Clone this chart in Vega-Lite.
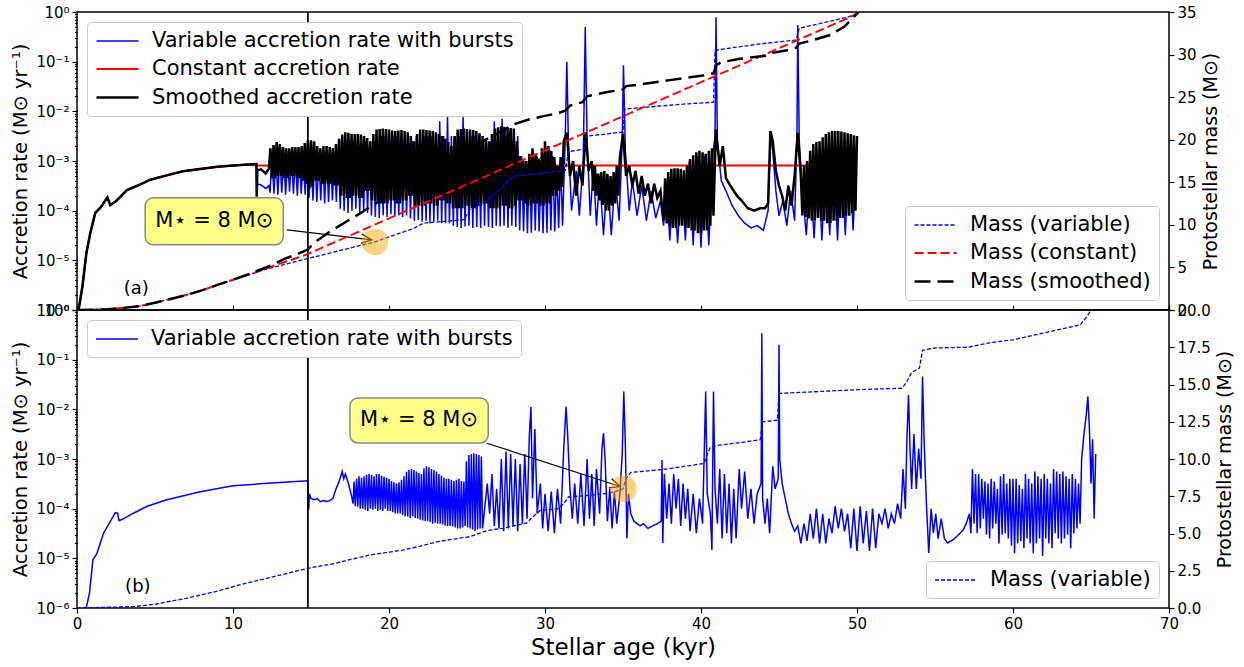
{
"$schema": "https://vega.github.io/schema/vega-lite/v6.json",
"padding": {"left": 10, "top": 4, "right": 4, "bottom": 4},
"bounds": "flush",
"spacing": 0,
"config": {
  "font": "DejaVu Sans",
  "view": {"stroke": "black", "strokeWidth": 1.5},
  "axis": {"labelFont": "DejaVu Sans", "titleFont": "DejaVu Sans", "labelColor": "black", "titleColor": "black", "tickColor": "black", "labelFontSize": 15, "titleFontSize": 19.5, "titleFontWeight": "normal", "grid": false, "domain": false, "tickWidth": 1.2, "labelOverlap": false, "labelBound": false, "labelFlush": false},
  "legend": {"labelFont": "DejaVu Sans", "labelFontSize": 21, "labelColor": "black", "strokeColor": "#cccccc", "fillColor": "white", "padding": 8, "cornerRadius": 4, "offset": 10, "labelLimit": 700, "rowPadding": 7},
  "text": {"font": "DejaVu Sans"}
},
"datasets": {
"topRate": [
{"s":"V","t":0.1,"r":1e-6},{"s":"V","t":0.35,"r":3e-6},{"s":"V","t":0.6,"r":1.4e-5},{"s":"V","t":0.85,"r":3.5e-5},{"s":"V","t":1.17,"r":9e-5},{"s":"V","t":1.5,"r":1.15e-4},{"s":"V","t":1.95,"r":1.85e-4},{"s":"V","t":2.13,"r":1.3e-4},{"s":"V","t":2.5,"r":1.55e-4},{"s":"V","t":3.2,"r":2.6e-4},{"s":"V","t":4,"r":3.3e-4},{"s":"V","t":4.7,"r":4.2e-4},{"s":"V","t":5.8,"r":5.2e-4},{"s":"V","t":6.8,"r":6.2e-4},{"s":"V","t":8,"r":7e-4},{"s":"V","t":9,"r":7.7e-4},{"s":"V","t":10,"r":8.1e-4},{"s":"V","t":11,"r":8.5e-4},{"s":"V","t":11.5,"r":8.7e-4},
{"s":"V","t":11.52,"r":3.5e-4},{"s":"V","t":11.8,"r":3.3e-4},{"s":"V","t":12.1,"r":2.8e-4},{"s":"V","t":12.3,"r":3.2e-4},
{"s":"V","t":12.375,"r":2.3e-4},{"s":"V","t":12.5,"r":1.26e-3},{"s":"V","t":12.625,"r":2.2e-4},{"s":"V","t":12.75,"r":1.26e-3},{"s":"V","t":12.875,"r":2.1e-4},{"s":"V","t":13,"r":1.26e-3},{"s":"V","t":13.125,"r":2.3e-4},{"s":"V","t":13.25,"r":1.26e-3},{"s":"V","t":13.375,"r":2.1e-4},{"s":"V","t":13.5,"r":1.26e-3},{"s":"V","t":13.625,"r":2.4e-4},{"s":"V","t":13.75,"r":1.26e-3},{"s":"V","t":13.875,"r":2.2e-4},{"s":"V","t":14,"r":1.26e-3},{"s":"V","t":14.125,"r":2e-4},{"s":"V","t":14.25,"r":1.26e-3},{"s":"V","t":14.375,"r":2.2e-4},{"s":"V","t":14.5,"r":1.26e-3},{"s":"V","t":14.625,"r":2.1e-4},{"s":"V","t":14.75,"r":1.26e-3},{"s":"V","t":14.875,"r":1.8e-4},{"s":"V","t":15,"r":1.26e-3},{"s":"V","t":15.125,"r":1.6e-4},{"s":"V","t":15.25,"r":1.26e-3},{"s":"V","t":15.375,"r":1.5e-4},{"s":"V","t":15.5,"r":1.26e-3},{"s":"V","t":15.625,"r":1.6e-4},{"s":"V","t":15.75,"r":1.26e-3},{"s":"V","t":15.875,"r":1.4e-4},{"s":"V","t":16,"r":1.26e-3},{"s":"V","t":16.125,"r":1.5e-4},{"s":"V","t":16.25,"r":1.26e-3},{"s":"V","t":16.375,"r":1.6e-4},{"s":"V","t":16.5,"r":1.26e-3},{"s":"V","t":16.625,"r":1.5e-4},{"s":"V","t":16.75,"r":1.6e-3},{"s":"V","t":16.875,"r":1.1e-4},{"s":"V","t":17,"r":2e-3},{"s":"V","t":17.125,"r":1e-4},{"s":"V","t":17.25,"r":2.5e-3},{"s":"V","t":17.375,"r":9e-5},{"s":"V","t":17.5,"r":2.5e-3},{"s":"V","t":17.625,"r":1e-4},{"s":"V","t":17.75,"r":2.5e-3},{"s":"V","t":17.875,"r":1.1e-4},{"s":"V","t":18,"r":2.5e-3},{"s":"V","t":18.125,"r":9e-5},{"s":"V","t":18.25,"r":2.5e-3},{"s":"V","t":18.375,"r":1e-4},{"s":"V","t":18.5,"r":2.5e-3},{"s":"V","t":18.625,"r":9e-5},{"s":"V","t":18.75,"r":2e-3},{"s":"V","t":18.875,"r":8e-5},{"s":"V","t":19,"r":2.5e-3},{"s":"V","t":19.125,"r":7.5e-5},{"s":"V","t":19.25,"r":3.2e-3},{"s":"V","t":19.375,"r":7.1e-5},{"s":"V","t":19.5,"r":3.2e-3},{"s":"V","t":19.625,"r":8e-5},{"s":"V","t":19.75,"r":3.2e-3},{"s":"V","t":19.875,"r":7.5e-5},{"s":"V","t":20,"r":3.2e-3},{"s":"V","t":20.125,"r":8.5e-5},{"s":"V","t":20.25,"r":3.2e-3},{"s":"V","t":20.375,"r":7.6e-5},{"s":"V","t":20.5,"r":3.2e-3},{"s":"V","t":20.625,"r":8e-5},{"s":"V","t":20.75,"r":3.2e-3},{"s":"V","t":20.875,"r":7.5e-5},{"s":"V","t":21,"r":3.2e-3},{"s":"V","t":21.125,"r":8e-5},{"s":"V","t":21.25,"r":2.5e-3},{"s":"V","t":21.375,"r":7e-5},{"s":"V","t":21.5,"r":2.5e-3},{"s":"V","t":21.625,"r":6.3e-5},{"s":"V","t":21.75,"r":3.2e-3},{"s":"V","t":21.875,"r":6.5e-5},{"s":"V","t":22,"r":3.2e-3},{"s":"V","t":22.125,"r":6e-5},{"s":"V","t":22.25,"r":3.2e-3},{"s":"V","t":22.375,"r":6.3e-5},{"s":"V","t":22.5,"r":3.2e-3},{"s":"V","t":22.625,"r":5.6e-5},{"s":"V","t":22.75,"r":3.2e-3},{"s":"V","t":22.875,"r":6e-5},{"s":"V","t":23,"r":3.2e-3},{"s":"V","t":23.125,"r":6.3e-5},{"s":"V","t":23.25,"r":6.3e-3},{"s":"V","t":23.375,"r":5.6e-5},{"s":"V","t":23.5,"r":3.2e-3},{"s":"V","t":23.625,"r":5.6e-5},{"s":"V","t":23.75,"r":7.9e-3},{"s":"V","t":23.875,"r":5.5e-5},{"s":"V","t":24,"r":3.2e-3},{"s":"V","t":24.125,"r":5e-5},{"s":"V","t":24.25,"r":3.2e-3},{"s":"V","t":24.375,"r":4.7e-5},{"s":"V","t":24.5,"r":3.2e-3},{"s":"V","t":24.625,"r":4.5e-5},{"s":"V","t":24.75,"r":7.9e-3},{"s":"V","t":24.875,"r":4.8e-5},{"s":"V","t":25,"r":3.2e-3},{"s":"V","t":25.125,"r":5e-5},{"s":"V","t":25.25,"r":3.2e-3},{"s":"V","t":25.375,"r":4.5e-5},{"s":"V","t":25.5,"r":3.2e-3},{"s":"V","t":25.625,"r":4.7e-5},{"s":"V","t":25.75,"r":3.2e-3},{"s":"V","t":25.875,"r":4.5e-5},{"s":"V","t":26,"r":3.2e-3},{"s":"V","t":26.125,"r":5e-5},{"s":"V","t":26.25,"r":2.5e-3},{"s":"V","t":26.375,"r":4.7e-5},{"s":"V","t":26.5,"r":2.5e-3},{"s":"V","t":26.625,"r":4.5e-5},{"s":"V","t":26.75,"r":6.3e-3},{"s":"V","t":26.875,"r":5e-5},{"s":"V","t":27,"r":3.2e-3},{"s":"V","t":27.125,"r":4.8e-5},{"s":"V","t":27.25,"r":7.1e-3},{"s":"V","t":27.375,"r":5e-5},{"s":"V","t":27.5,"r":3.2e-3},{"s":"V","t":27.625,"r":4.5e-5},{"s":"V","t":27.75,"r":4e-3},{"s":"V","t":27.875,"r":5e-5},{"s":"V","t":28,"r":3.2e-3},{"s":"V","t":28.125,"r":4.7e-5},{"s":"V","t":28.25,"r":3.2e-3},{"s":"V","t":28.375,"r":4e-5},{"s":"V","t":28.5,"r":1.26e-3},{"s":"V","t":28.625,"r":3.8e-5},{"s":"V","t":28.75,"r":1e-3},{"s":"V","t":28.875,"r":3.5e-5},{"s":"V","t":29,"r":1.26e-3},{"s":"V","t":29.125,"r":3.6e-5},{"s":"V","t":29.25,"r":1.6e-3},{"s":"V","t":29.375,"r":4e-5},{"s":"V","t":29.5,"r":1.26e-3},{"s":"V","t":29.625,"r":3.8e-5},{"s":"V","t":29.75,"r":1e-3},{"s":"V","t":29.875,"r":3.5e-5},{"s":"V","t":30,"r":1.6e-3},{"s":"V","t":30.125,"r":3.6e-5},{"s":"V","t":30.25,"r":2e-3},{"s":"V","t":30.375,"r":4e-5},{"s":"V","t":30.5,"r":1.26e-3},{"s":"V","t":30.625,"r":3.8e-5},{"s":"V","t":30.75,"r":7.9e-4},{"s":"V","t":30.875,"r":4.5e-5},{"s":"V","t":31,"r":1e-3},{"s":"V","t":31.125,"r":5e-5},
{"s":"V","t":31.3,"r":3.2e-3},{"s":"V","t":31.4,"r":0.1},{"s":"V","t":31.5,"r":2.5e-3},{"s":"V","t":31.7,"r":1e-4},{"s":"V","t":32,"r":6.3e-4},{"s":"V","t":32.2,"r":7.9e-5},{"s":"V","t":32.45,"r":1e-3},{"s":"V","t":32.58,"r":0.5},{"s":"V","t":32.7,"r":2.5e-3},{"s":"V","t":32.9,"r":7.9e-5},{"s":"V","t":33.1,"r":7.9e-4},{"s":"V","t":33.3,"r":5e-5},{"s":"V","t":33.5,"r":5e-4},{"s":"V","t":33.75,"r":3.2e-5},{"s":"V","t":34,"r":5e-4},{"s":"V","t":34.25,"r":3.2e-5},{"s":"V","t":34.5,"r":5e-4},{"s":"V","t":34.75,"r":6.3e-5},{"s":"V","t":34.95,"r":2.5e-3},{"s":"V","t":35.03,"r":8.5e-2},{"s":"V","t":35.15,"r":1.6e-3},{"s":"V","t":35.4,"r":1e-4},{"s":"V","t":35.6,"r":4e-4},{"s":"V","t":35.9,"r":7.9e-5},{"s":"V","t":36.2,"r":3.2e-4},{"s":"V","t":36.5,"r":6.3e-5},{"s":"V","t":36.8,"r":2.5e-4},{"s":"V","t":37.1,"r":7.1e-5},{"s":"V","t":37.4,"r":1.6e-4},{"s":"V","t":37.6,"r":5e-5},{"s":"V","t":37.8,"r":4e-4},{"s":"V","t":38,"r":2.5e-5},{"s":"V","t":38.25,"r":5e-4},{"s":"V","t":38.5,"r":2.2e-5},{"s":"V","t":38.75,"r":5e-4},{"s":"V","t":39,"r":2.5e-5},{"s":"V","t":39.25,"r":1e-3},{"s":"V","t":39.5,"r":2e-5},{"s":"V","t":39.75,"r":1.26e-3},{"s":"V","t":40,"r":1.8e-5},{"s":"V","t":40.25,"r":1.26e-3},{"s":"V","t":40.5,"r":2e-5},{"s":"V","t":40.75,"r":1.26e-3},{"s":"V","t":40.9,"r":3.2e-3},{"s":"V","t":40.96,"r":0.78},{"s":"V","t":41.05,"r":2.5e-3},{"s":"V","t":41.3,"r":4e-4},{"s":"V","t":41.6,"r":2.5e-4},{"s":"V","t":42,"r":1.26e-4},{"s":"V","t":42.4,"r":7.9e-5},{"s":"V","t":42.8,"r":5.6e-5},{"s":"V","t":43.2,"r":4.5e-5},{"s":"V","t":43.6,"r":5e-5},{"s":"V","t":44,"r":4e-5},{"s":"V","t":44.3,"r":1e-4},{"s":"V","t":44.45,"r":3.2e-3},{"s":"V","t":44.6,"r":1.6e-3},{"s":"V","t":44.8,"r":2.5e-4},{"s":"V","t":45,"r":7.9e-5},{"s":"V","t":45.25,"r":1.6e-4},{"s":"V","t":45.5,"r":5e-5},{"s":"V","t":45.75,"r":2.5e-4},{"s":"V","t":46,"r":6.3e-5},{"s":"V","t":46.15,"r":3.2e-3},{"s":"V","t":46.2,"r":0.55},{"s":"V","t":46.3,"r":2.5e-3},{"s":"V","t":46.5,"r":2.5e-4},{"s":"V","t":46.75,"r":3.2e-5},{"s":"V","t":47,"r":6.3e-4},{"s":"V","t":47.25,"r":2.8e-5},{"s":"V","t":47.5,"r":1e-3},{"s":"V","t":47.75,"r":2.5e-5},{"s":"V","t":48,"r":1.6e-3},{"s":"V","t":48.25,"r":3.2e-5},{"s":"V","t":48.5,"r":2e-3},{"s":"V","t":48.75,"r":2.5e-5},{"s":"V","t":49,"r":2e-3},{"s":"V","t":49.25,"r":3.2e-5},{"s":"V","t":49.5,"r":2e-3},{"s":"V","t":49.75,"r":4e-5},{"s":"V","t":50,"r":2.5e-3},
{"s":"C","t":0.1,"r":1e-6},{"s":"C","t":0.35,"r":3e-6},{"s":"C","t":0.6,"r":1.4e-5},{"s":"C","t":0.85,"r":3.5e-5},{"s":"C","t":1.17,"r":9e-5},{"s":"C","t":1.5,"r":1.15e-4},{"s":"C","t":1.95,"r":1.85e-4},{"s":"C","t":2.13,"r":1.3e-4},{"s":"C","t":2.5,"r":1.55e-4},{"s":"C","t":3.2,"r":2.6e-4},{"s":"C","t":4.7,"r":4.2e-4},{"s":"C","t":6.8,"r":6.2e-4},{"s":"C","t":9,"r":7.7e-4},{"s":"C","t":11,"r":8.5e-4},{"s":"C","t":11.5,"r":8.1e-4},{"s":"C","t":50,"r":8.1e-4},
{"s":"S","t":0.1,"r":1e-6},{"s":"S","t":0.35,"r":3e-6},{"s":"S","t":0.6,"r":1.4e-5},{"s":"S","t":0.85,"r":3.5e-5},{"s":"S","t":1.17,"r":9e-5},{"s":"S","t":1.5,"r":1.15e-4},{"s":"S","t":1.95,"r":1.85e-4},{"s":"S","t":2.13,"r":1.3e-4},{"s":"S","t":2.5,"r":1.55e-4},{"s":"S","t":3.2,"r":2.6e-4},{"s":"S","t":4,"r":3.3e-4},{"s":"S","t":4.7,"r":4.2e-4},{"s":"S","t":5.8,"r":5.2e-4},{"s":"S","t":6.8,"r":6.2e-4},{"s":"S","t":8,"r":7e-4},{"s":"S","t":9,"r":7.7e-4},{"s":"S","t":10,"r":8.1e-4},{"s":"S","t":11,"r":8.5e-4},{"s":"S","t":11.5,"r":8.7e-4},
{"s":"S","t":11.52,"r":1.9e-4},{"s":"S","t":11.56,"r":6.5e-4},{"s":"S","t":11.8,"r":6.8e-4},{"s":"S","t":12.1,"r":5.6e-4},{"s":"S","t":12.3,"r":7e-4},
{"s":"S","t":12.4,"r":1.8e-3},{"s":"S","t":12.5,"r":4.5e-4},{"s":"S","t":12.6,"r":2.1e-3},{"s":"S","t":12.7,"r":4.5e-4},{"s":"S","t":12.8,"r":2.4e-3},{"s":"S","t":12.9,"r":5e-4},{"s":"S","t":13,"r":2.2e-3},{"s":"S","t":13.1,"r":5e-4},{"s":"S","t":13.2,"r":1.9e-3},{"s":"S","t":13.3,"r":4.5e-4},{"s":"S","t":13.4,"r":1.8e-3},{"s":"S","t":13.5,"r":4.5e-4},{"s":"S","t":13.6,"r":1.8e-3},{"s":"S","t":13.7,"r":5e-4},{"s":"S","t":13.8,"r":1.9e-3},{"s":"S","t":13.9,"r":5e-4},{"s":"S","t":14,"r":1.9e-3},{"s":"S","t":14.1,"r":4.5e-4},{"s":"S","t":14.2,"r":1.9e-3},{"s":"S","t":14.3,"r":4.5e-4},{"s":"S","t":14.4,"r":2e-3},{"s":"S","t":14.5,"r":4e-4},{"s":"S","t":14.6,"r":2.3e-3},{"s":"S","t":14.7,"r":3.5e-4},{"s":"S","t":14.8,"r":2.6e-3},{"s":"S","t":14.9,"r":2.8e-4},{"s":"S","t":15,"r":2.6e-3},{"s":"S","t":15.1,"r":3e-4},{"s":"S","t":15.2,"r":2.5e-3},{"s":"S","t":15.3,"r":4e-4},{"s":"S","t":15.4,"r":2e-3},{"s":"S","t":15.5,"r":4e-4},{"s":"S","t":15.6,"r":1.8e-3},{"s":"S","t":15.7,"r":3.5e-4},{"s":"S","t":15.8,"r":2e-3},{"s":"S","t":15.9,"r":3.5e-4},{"s":"S","t":16,"r":2e-3},{"s":"S","t":16.1,"r":3.5e-4},{"s":"S","t":16.2,"r":1.9e-3},{"s":"S","t":16.3,"r":3.5e-4},{"s":"S","t":16.4,"r":1.8e-3},{"s":"S","t":16.5,"r":3.2e-4},{"s":"S","t":16.6,"r":2.2e-3},{"s":"S","t":16.7,"r":3.2e-4},{"s":"S","t":16.8,"r":2.8e-3},{"s":"S","t":16.9,"r":2e-4},{"s":"S","t":17,"r":3.4e-3},{"s":"S","t":17.1,"r":2e-4},{"s":"S","t":17.2,"r":3.8e-3},{"s":"S","t":17.3,"r":1.8e-4},{"s":"S","t":17.4,"r":3.7e-3},{"s":"S","t":17.5,"r":1.8e-4},{"s":"S","t":17.6,"r":3.5e-3},{"s":"S","t":17.7,"r":2e-4},{"s":"S","t":17.8,"r":3.5e-3},{"s":"S","t":17.9,"r":2e-4},{"s":"S","t":18,"r":3.5e-3},{"s":"S","t":18.1,"r":1.8e-4},{"s":"S","t":18.2,"r":3.4e-3},{"s":"S","t":18.3,"r":1.8e-4},{"s":"S","t":18.4,"r":3.2e-3},{"s":"S","t":18.5,"r":2.5e-4},{"s":"S","t":18.6,"r":2.9e-3},{"s":"S","t":18.7,"r":2.5e-4},{"s":"S","t":18.8,"r":2.5e-3},{"s":"S","t":18.9,"r":1.6e-4},{"s":"S","t":19,"r":3.5e-3},{"s":"S","t":19.1,"r":1.6e-4},{"s":"S","t":19.2,"r":4.3e-3},{"s":"S","t":19.3,"r":1.4e-4},{"s":"S","t":19.4,"r":4.4e-3},{"s":"S","t":19.5,"r":1.4e-4},{"s":"S","t":19.6,"r":4.5e-3},{"s":"S","t":19.7,"r":1.4e-4},{"s":"S","t":19.8,"r":4.4e-3},{"s":"S","t":19.9,"r":1.4e-4},{"s":"S","t":20,"r":4.3e-3},{"s":"S","t":20.1,"r":1.6e-4},{"s":"S","t":20.2,"r":4.1e-3},{"s":"S","t":20.3,"r":1.6e-4},{"s":"S","t":20.4,"r":4e-3},{"s":"S","t":20.5,"r":1.4e-4},{"s":"S","t":20.6,"r":4.1e-3},{"s":"S","t":20.7,"r":1.4e-4},{"s":"S","t":20.8,"r":4.2e-3},{"s":"S","t":20.9,"r":1.6e-4},{"s":"S","t":21,"r":4e-3},{"s":"S","t":21.1,"r":1.6e-4},{"s":"S","t":21.2,"r":3.8e-3},{"s":"S","t":21.3,"r":2e-4},{"s":"S","t":21.4,"r":3.2e-3},{"s":"S","t":21.5,"r":2e-4},{"s":"S","t":21.6,"r":2.5e-3},{"s":"S","t":21.7,"r":1.26e-4},{"s":"S","t":21.8,"r":3.5e-3},{"s":"S","t":21.9,"r":1.26e-4},{"s":"S","t":22,"r":4.3e-3},{"s":"S","t":22.1,"r":1.26e-4},{"s":"S","t":22.2,"r":4.3e-3},{"s":"S","t":22.3,"r":1.26e-4},{"s":"S","t":22.4,"r":4.2e-3},{"s":"S","t":22.5,"r":1.4e-4},{"s":"S","t":22.6,"r":4.1e-3},{"s":"S","t":22.7,"r":1.4e-4},{"s":"S","t":22.8,"r":4e-3},{"s":"S","t":22.9,"r":1.26e-4},{"s":"S","t":23,"r":3.8e-3},{"s":"S","t":23.1,"r":1.26e-4},{"s":"S","t":23.2,"r":3.5e-3},{"s":"S","t":23.3,"r":1.6e-4},{"s":"S","t":23.4,"r":3.2e-3},{"s":"S","t":23.5,"r":1.6e-4},{"s":"S","t":23.6,"r":2.8e-3},{"s":"S","t":23.7,"r":1.4e-4},{"s":"S","t":23.8,"r":2.4e-3},{"s":"S","t":23.9,"r":1.4e-4},{"s":"S","t":24,"r":2e-3},{"s":"S","t":24.1,"r":1.12e-4},{"s":"S","t":24.2,"r":3.2e-3},{"s":"S","t":24.3,"r":1.12e-4},{"s":"S","t":24.4,"r":4.3e-3},{"s":"S","t":24.5,"r":1.12e-4},{"s":"S","t":24.6,"r":4.4e-3},{"s":"S","t":24.7,"r":1.12e-4},{"s":"S","t":24.8,"r":4.5e-3},{"s":"S","t":24.9,"r":1.26e-4},{"s":"S","t":25,"r":4.4e-3},{"s":"S","t":25.1,"r":1.26e-4},{"s":"S","t":25.2,"r":4.3e-3},{"s":"S","t":25.3,"r":1.12e-4},{"s":"S","t":25.4,"r":4.2e-3},{"s":"S","t":25.5,"r":1.12e-4},{"s":"S","t":25.6,"r":4e-3},{"s":"S","t":25.7,"r":1.26e-4},{"s":"S","t":25.8,"r":3.6e-3},{"s":"S","t":25.9,"r":1.26e-4},{"s":"S","t":26,"r":3.2e-3},{"s":"S","t":26.1,"r":1.4e-4},{"s":"S","t":26.2,"r":2.8e-3},{"s":"S","t":26.3,"r":1.4e-4},{"s":"S","t":26.4,"r":2.5e-3},{"s":"S","t":26.5,"r":1.12e-4},{"s":"S","t":26.6,"r":3.5e-3},{"s":"S","t":26.7,"r":1.12e-4},{"s":"S","t":26.8,"r":4.5e-3},{"s":"S","t":26.9,"r":1.12e-4},{"s":"S","t":27,"r":4.8e-3},{"s":"S","t":27.1,"r":1.12e-4},{"s":"S","t":27.2,"r":5e-3},{"s":"S","t":27.3,"r":1.26e-4},{"s":"S","t":27.4,"r":4.9e-3},{"s":"S","t":27.5,"r":1.26e-4},{"s":"S","t":27.6,"r":4.8e-3},{"s":"S","t":27.7,"r":1.12e-4},{"s":"S","t":27.8,"r":4.6e-3},{"s":"S","t":27.9,"r":1.12e-4},{"s":"S","t":28,"r":4.5e-3},{"s":"S","t":28.1,"r":1.26e-4},{"s":"S","t":28.2,"r":2.5e-3},{"s":"S","t":28.3,"r":1.6e-4},{"s":"S","t":28.4,"r":1.26e-3},{"s":"S","t":28.5,"r":1.6e-4},{"s":"S","t":28.6,"r":1.1e-3},{"s":"S","t":28.7,"r":1.4e-4},{"s":"S","t":28.8,"r":1e-3},{"s":"S","t":28.9,"r":1.26e-4},{"s":"S","t":29,"r":1.4e-3},{"s":"S","t":29.1,"r":1.26e-4},{"s":"S","t":29.2,"r":1.8e-3},{"s":"S","t":29.3,"r":1.4e-4},{"s":"S","t":29.4,"r":1.4e-3},{"s":"S","t":29.5,"r":1.4e-4},{"s":"S","t":29.6,"r":1.12e-3},{"s":"S","t":29.7,"r":1.26e-4},{"s":"S","t":29.8,"r":1.8e-3},{"s":"S","t":29.9,"r":1.26e-4},{"s":"S","t":30,"r":2.5e-3},{"s":"S","t":30.1,"r":1.4e-4},{"s":"S","t":30.2,"r":2e-3},{"s":"S","t":30.3,"r":1.4e-4},{"s":"S","t":30.4,"r":1.6e-3},{"s":"S","t":30.5,"r":2e-4},{"s":"S","t":30.6,"r":1.2e-3},{"s":"S","t":30.7,"r":2e-4},{"s":"S","t":30.8,"r":7.9e-4},{"s":"S","t":30.9,"r":2.5e-4},{"s":"S","t":31,"r":1.2e-3},{"s":"S","t":31.1,"r":3e-4},{"s":"S","t":31.2,"r":2.5e-3},{"s":"S","t":31.4,"r":3.7e-3},
{"s":"S","t":31.6,"r":5e-4},{"s":"S","t":31.8,"r":1e-3},{"s":"S","t":32,"r":2e-4},{"s":"S","t":32.2,"r":7.9e-4},{"s":"S","t":32.4,"r":3.2e-4},{"s":"S","t":32.6,"r":3.8e-3},{"s":"S","t":32.8,"r":6.3e-4},
{"s":"S","t":33,"r":1e-3},{"s":"S","t":33.1,"r":2.5e-4},{"s":"S","t":33.2,"r":8e-4},{"s":"S","t":33.3,"r":2e-4},{"s":"S","t":33.4,"r":5.6e-4},{"s":"S","t":33.5,"r":1.6e-4},{"s":"S","t":33.6,"r":6e-4},{"s":"S","t":33.7,"r":1.3e-4},{"s":"S","t":33.8,"r":6.3e-4},{"s":"S","t":33.9,"r":1e-4},{"s":"S","t":34,"r":5.5e-4},{"s":"S","t":34.1,"r":1e-4},{"s":"S","t":34.2,"r":5e-4},{"s":"S","t":34.3,"r":1.26e-4},{"s":"S","t":34.4,"r":6e-4},{"s":"S","t":34.5,"r":1.4e-4},{"s":"S","t":34.6,"r":7.9e-4},{"s":"S","t":34.7,"r":2e-4},{"s":"S","t":34.8,"r":1.2e-3},{"s":"S","t":35,"r":3.55e-3},
{"s":"S","t":35.2,"r":5e-4},{"s":"S","t":35.4,"r":7.9e-4},{"s":"S","t":35.6,"r":3.2e-4},{"s":"S","t":35.8,"r":6.3e-4},{"s":"S","t":36,"r":2.2e-4},{"s":"S","t":36.2,"r":5e-4},{"s":"S","t":36.4,"r":2e-4},{"s":"S","t":36.6,"r":3.5e-4},{"s":"S","t":36.8,"r":1.4e-4},{"s":"S","t":37,"r":3.5e-4},{"s":"S","t":37.2,"r":1.8e-4},{"s":"S","t":37.4,"r":2.5e-4},
{"s":"S","t":37.6,"r":6.3e-5},{"s":"S","t":37.7,"r":4.5e-4},{"s":"S","t":37.8,"r":5.5e-5},{"s":"S","t":37.9,"r":6e-4},{"s":"S","t":38,"r":5e-5},{"s":"S","t":38.1,"r":7e-4},{"s":"S","t":38.2,"r":4.5e-5},{"s":"S","t":38.3,"r":7.1e-4},{"s":"S","t":38.4,"r":4.5e-5},{"s":"S","t":38.5,"r":7.1e-4},{"s":"S","t":38.6,"r":5e-5},{"s":"S","t":38.7,"r":7e-4},{"s":"S","t":38.8,"r":5e-5},{"s":"S","t":38.9,"r":6.5e-4},{"s":"S","t":39,"r":4.5e-5},{"s":"S","t":39.1,"r":8e-4},{"s":"S","t":39.2,"r":4.5e-5},{"s":"S","t":39.3,"r":1.1e-3},{"s":"S","t":39.4,"r":4e-5},{"s":"S","t":39.5,"r":1.3e-3},{"s":"S","t":39.6,"r":4e-5},{"s":"S","t":39.7,"r":1.5e-3},{"s":"S","t":39.8,"r":3.5e-5},{"s":"S","t":39.9,"r":1.6e-3},{"s":"S","t":40,"r":3.5e-5},{"s":"S","t":40.1,"r":1.5e-3},{"s":"S","t":40.2,"r":4e-5},{"s":"S","t":40.3,"r":1.4e-3},{"s":"S","t":40.4,"r":4e-5},{"s":"S","t":40.5,"r":1.6e-3},{"s":"S","t":40.6,"r":5e-5},{"s":"S","t":40.7,"r":1.8e-3},{"s":"S","t":40.8,"r":7.9e-5},{"s":"S","t":40.95,"r":4.3e-3},
{"s":"S","t":41.2,"r":7.9e-4},{"s":"S","t":41.4,"r":2e-3},{"s":"S","t":41.6,"r":4.5e-4},{"s":"S","t":41.8,"r":3.5e-4},{"s":"S","t":42,"r":2.8e-4},{"s":"S","t":42.3,"r":2e-4},{"s":"S","t":42.6,"r":1.6e-4},{"s":"S","t":43,"r":1.12e-4},{"s":"S","t":43.4,"r":1e-4},{"s":"S","t":43.8,"r":1.12e-4},{"s":"S","t":44.1,"r":1.12e-4},{"s":"S","t":44.3,"r":1.4e-4},{"s":"S","t":44.45,"r":4e-3},{"s":"S","t":44.6,"r":2.5e-3},{"s":"S","t":44.8,"r":6.3e-4},{"s":"S","t":45,"r":3.2e-4},{"s":"S","t":45.2,"r":2e-4},{"s":"S","t":45.4,"r":1e-4},{"s":"S","t":45.6,"r":3.2e-4},{"s":"S","t":45.8,"r":1.26e-4},{"s":"S","t":46,"r":5e-4},{"s":"S","t":46.2,"r":3.7e-3},
{"s":"S","t":46.4,"r":5e-4},{"s":"S","t":46.5,"r":8e-5},{"s":"S","t":46.6,"r":8e-4},{"s":"S","t":46.7,"r":7.5e-5},{"s":"S","t":46.8,"r":1e-3},{"s":"S","t":46.9,"r":7e-5},{"s":"S","t":47,"r":1.6e-3},{"s":"S","t":47.1,"r":6.3e-5},{"s":"S","t":47.2,"r":2.2e-3},{"s":"S","t":47.3,"r":6.5e-5},{"s":"S","t":47.4,"r":2.4e-3},{"s":"S","t":47.5,"r":7.1e-5},{"s":"S","t":47.6,"r":2.5e-3},{"s":"S","t":47.7,"r":6.3e-5},{"s":"S","t":47.8,"r":3e-3},{"s":"S","t":47.9,"r":6.3e-5},{"s":"S","t":48,"r":3.5e-3},{"s":"S","t":48.1,"r":5.6e-5},{"s":"S","t":48.2,"r":3.8e-3},{"s":"S","t":48.3,"r":5.6e-5},{"s":"S","t":48.4,"r":4e-3},{"s":"S","t":48.5,"r":6.3e-5},{"s":"S","t":48.6,"r":4e-3},{"s":"S","t":48.7,"r":6.3e-5},{"s":"S","t":48.8,"r":4e-3},{"s":"S","t":48.9,"r":7.1e-5},{"s":"S","t":49,"r":3.9e-3},{"s":"S","t":49.1,"r":7.1e-5},{"s":"S","t":49.2,"r":3.8e-3},{"s":"S","t":49.3,"r":7.9e-5},{"s":"S","t":49.4,"r":3.6e-3},{"s":"S","t":49.5,"r":7.9e-5},{"s":"S","t":49.6,"r":3.5e-3},{"s":"S","t":49.7,"r":9e-5},{"s":"S","t":49.8,"r":3.3e-3},{"s":"S","t":49.9,"r":1e-4},{"s":"S","t":50,"r":3.2e-3}
],
"topMass": [
{"s":"MV","t":0,"m":0},{"s":"MV","t":2,"m":0.1},{"s":"MV","t":4,"m":0.45},{"s":"MV","t":6,"m":1.3},{"s":"MV","t":8,"m":2.3},{"s":"MV","t":10,"m":3.55},{"s":"MV","t":11.5,"m":4.45},{"s":"MV","t":12,"m":4.75},{"s":"MV","t":14.7,"m":6.0},{"s":"MV","t":16,"m":6.6},{"s":"MV","t":17,"m":7.05},{"s":"MV","t":18,"m":7.5},{"s":"MV","t":19.1,"m":8.0},{"s":"MV","t":20,"m":8.6},{"s":"MV","t":21.3,"m":9.4},{"s":"MV","t":21.6,"m":9.6},{"s":"MV","t":22,"m":10.0},{"s":"MV","t":22.2,"m":10.2},{"s":"MV","t":23.5,"m":10.4},{"s":"MV","t":24.8,"m":10.6},{"s":"MV","t":25.2,"m":11.8},{"s":"MV","t":26,"m":12.5},{"s":"MV","t":27,"m":14.0},{"s":"MV","t":28,"m":15.7},{"s":"MV","t":29.5,"m":16.0},{"s":"MV","t":31.3,"m":16.4},{"s":"MV","t":31.5,"m":18.6},{"s":"MV","t":32.5,"m":18.9},{"s":"MV","t":32.6,"m":20.4},{"s":"MV","t":35,"m":20.9},{"s":"MV","t":35.1,"m":23.6},{"s":"MV","t":37,"m":23.9},{"s":"MV","t":39,"m":24.2},{"s":"MV","t":40.8,"m":24.4},{"s":"MV","t":40.9,"m":30.5},{"s":"MV","t":42,"m":30.8},{"s":"MV","t":44,"m":31.3},{"s":"MV","t":46.1,"m":31.7},{"s":"MV","t":46.3,"m":33.1},{"s":"MV","t":48,"m":33.8},{"s":"MV","t":49.4,"m":34.4},{"s":"MV","t":50,"m":34.8},
{"s":"MC","t":0,"m":0},{"s":"MC","t":1,"m":0.03},{"s":"MC","t":2,"m":0.1},{"s":"MC","t":3,"m":0.25},{"s":"MC","t":4,"m":0.45},{"s":"MC","t":5,"m":0.85},{"s":"MC","t":6,"m":1.3},{"s":"MC","t":7,"m":1.75},{"s":"MC","t":8,"m":2.3},{"s":"MC","t":9,"m":2.95},{"s":"MC","t":10,"m":3.55},{"s":"MC","t":11,"m":4.15},{"s":"MC","t":11.5,"m":4.45},{"s":"MC","t":12,"m":4.8},{"s":"MC","t":13,"m":5.45},{"s":"MC","t":14,"m":6.05},{"s":"MC","t":14.7,"m":6.5},{"s":"MC","t":16,"m":7.55},{"s":"MC","t":18,"m":9.15},{"s":"MC","t":20,"m":10.75},{"s":"MC","t":22,"m":12.35},{"s":"MC","t":24,"m":13.95},{"s":"MC","t":26,"m":15.55},{"s":"MC","t":28,"m":17.15},{"s":"MC","t":30,"m":18.75},{"s":"MC","t":32,"m":20.35},{"s":"MC","t":34,"m":21.95},{"s":"MC","t":36,"m":23.55},{"s":"MC","t":38,"m":25.15},{"s":"MC","t":40,"m":26.75},{"s":"MC","t":42,"m":28.35},{"s":"MC","t":44,"m":29.95},{"s":"MC","t":46,"m":31.55},{"s":"MC","t":48,"m":33.15},{"s":"MC","t":50,"m":34.75},
{"s":"MS","t":0,"m":0},{"s":"MS","t":1,"m":0.03},{"s":"MS","t":2,"m":0.1},{"s":"MS","t":3,"m":0.25},{"s":"MS","t":4,"m":0.45},{"s":"MS","t":5,"m":0.85},{"s":"MS","t":6,"m":1.3},{"s":"MS","t":7,"m":1.75},{"s":"MS","t":8,"m":2.3},{"s":"MS","t":9,"m":2.95},{"s":"MS","t":10,"m":3.55},{"s":"MS","t":11,"m":4.2},{"s":"MS","t":12.2,"m":5.05},{"s":"MS","t":13.3,"m":6.0},{"s":"MS","t":14.3,"m":6.7},{"s":"MS","t":14.8,"m":7.1},{"s":"MS","t":15.2,"m":7.9},{"s":"MS","t":16.2,"m":9.2},{"s":"MS","t":17.2,"m":10.3},{"s":"MS","t":18.2,"m":11.4},{"s":"MS","t":19.2,"m":12.6},{"s":"MS","t":20,"m":13.5},{"s":"MS","t":21,"m":14.6},{"s":"MS","t":22,"m":15.7},{"s":"MS","t":23,"m":16.8},{"s":"MS","t":24,"m":17.9},{"s":"MS","t":25,"m":18.9},{"s":"MS","t":26,"m":19.8},{"s":"MS","t":27,"m":20.8},{"s":"MS","t":28,"m":21.8},{"s":"MS","t":29,"m":22.4},{"s":"MS","t":30,"m":22.8},{"s":"MS","t":30.8,"m":23.1},{"s":"MS","t":31.3,"m":23.4},{"s":"MS","t":31.6,"m":24.0},{"s":"MS","t":32.4,"m":24.4},{"s":"MS","t":32.7,"m":25.1},{"s":"MS","t":34,"m":25.6},{"s":"MS","t":35,"m":25.9},{"s":"MS","t":35.2,"m":26.3},{"s":"MS","t":36.1,"m":26.5},{"s":"MS","t":38,"m":27.0},{"s":"MS","t":40,"m":27.5},{"s":"MS","t":40.8,"m":27.8},{"s":"MS","t":41,"m":28.8},{"s":"MS","t":41.3,"m":29.1},{"s":"MS","t":42.5,"m":29.5},{"s":"MS","t":44.3,"m":29.9},{"s":"MS","t":44.6,"m":30.2},{"s":"MS","t":45.5,"m":30.5},{"s":"MS","t":46.1,"m":30.8},{"s":"MS","t":46.3,"m":31.3},{"s":"MS","t":47,"m":31.6},{"s":"MS","t":48.3,"m":32.3},{"s":"MS","t":49.2,"m":33.3},{"s":"MS","t":50,"m":34.8},{"s":"MS","t":50.2,"m":35.2}
],
"botRate": [
{"t":0.59,"r":1e-6},{"t":0.8,"r":2e-6},{"t":1.02,"r":9.3e-6},{"t":1.28,"r":1.26e-5},{"t":1.7,"r":3.2e-5},{"t":2.13,"r":5.5e-5},{"t":2.45,"r":8.3e-5},{"t":2.6,"r":8.1e-5},{"t":2.7,"r":5.75e-5},{"t":3,"r":6.3e-5},{"t":3.62,"r":8.1e-5},{"t":4.5,"r":1.12e-4},{"t":5.76,"r":1.51e-4},{"t":7.9,"r":2.19e-4},{"t":10,"r":2.88e-4},{"t":12.2,"r":3.24e-4},{"t":14.3,"r":3.55e-4},{"t":14.8,"r":3.63e-4},{"t":14.85,"r":9.5e-5},{"t":14.9,"r":2e-4},{"t":15,"r":1.6e-4},{"t":15.2,"r":1.51e-4},{"t":15.4,"r":1.6e-4},{"t":15.6,"r":1.38e-4},{"t":15.8,"r":1.45e-4},{"t":16,"r":1.4e-4},{"t":16.2,"r":1.45e-4},{"t":16.4,"r":1.6e-4},{"t":16.6,"r":2.5e-4},{"t":16.8,"r":3.5e-4},{"t":17,"r":5.6e-4},{"t":17.1,"r":4e-4},{"t":17.2,"r":5e-4},{"t":17.4,"r":3.2e-4},{"t":17.6,"r":1.8e-4},{"t":17.7,"r":1.26e-4},
{"t":17.76,"r":3.5e-4},{"t":17.84,"r":1.12e-4},{"t":17.92,"r":4e-4},{"t":18,"r":1.1e-4},{"t":18.08,"r":4.5e-4},{"t":18.16,"r":1e-4},{"t":18.24,"r":4.2e-4},{"t":18.32,"r":1e-4},{"t":18.4,"r":4.5e-4},{"t":18.48,"r":9.5e-5},{"t":18.56,"r":4.8e-4},{"t":18.64,"r":9e-5},{"t":18.72,"r":5e-4},{"t":18.8,"r":1e-4},{"t":18.88,"r":4.8e-4},{"t":18.96,"r":9.5e-5},{"t":19.04,"r":4.5e-4},{"t":19.12,"r":1e-4},{"t":19.2,"r":5e-4},{"t":19.28,"r":9e-5},{"t":19.36,"r":5e-4},{"t":19.44,"r":9.5e-5},{"t":19.52,"r":4.6e-4},{"t":19.6,"r":9e-5},{"t":19.68,"r":4.4e-4},{"t":19.76,"r":1e-4},{"t":19.84,"r":4.2e-4},{"t":19.92,"r":9e-5},{"t":20,"r":4e-4},{"t":20.08,"r":9e-5},{"t":20.16,"r":3.6e-4},{"t":20.24,"r":8.5e-5},{"t":20.32,"r":3.4e-4},{"t":20.4,"r":8e-5},{"t":20.48,"r":3.2e-4},{"t":20.56,"r":8e-5},{"t":20.64,"r":3.4e-4},{"t":20.72,"r":8e-5},{"t":20.8,"r":3.8e-4},{"t":20.88,"r":7.5e-5},{"t":20.96,"r":4.5e-4},{"t":21.04,"r":7e-5},{"t":21.12,"r":5.5e-4},{"t":21.2,"r":7e-5},{"t":21.28,"r":6e-4},{"t":21.36,"r":6.5e-5},{"t":21.44,"r":6.3e-4},{"t":21.52,"r":7e-5},{"t":21.6,"r":6e-4},{"t":21.68,"r":6.5e-5},{"t":21.76,"r":5.6e-4},{"t":21.84,"r":6.3e-5},{"t":21.92,"r":5.2e-4},{"t":22,"r":6e-5},{"t":22.08,"r":5e-4},{"t":22.16,"r":5.8e-5},{"t":22.24,"r":6.5e-4},{"t":22.32,"r":5.6e-5},{"t":22.4,"r":7.1e-4},{"t":22.48,"r":5.6e-5},{"t":22.56,"r":6.8e-4},{"t":22.64,"r":5.4e-5},{"t":22.72,"r":6.3e-4},{"t":22.8,"r":5e-5},{"t":22.88,"r":6e-4},{"t":22.96,"r":5.2e-5},{"t":23.04,"r":5.6e-4},{"t":23.12,"r":5e-5},{"t":23.2,"r":5e-4},{"t":23.28,"r":5e-5},{"t":23.36,"r":4.6e-4},{"t":23.44,"r":4.8e-5},{"t":23.52,"r":4.2e-4},{"t":23.6,"r":4.6e-5},{"t":23.68,"r":4e-4},{"t":23.76,"r":4.5e-5},{"t":23.84,"r":4e-4},{"t":23.92,"r":4.5e-5},{"t":24,"r":3.8e-4},{"t":24.08,"r":4.4e-5},{"t":24.16,"r":3.6e-4},{"t":24.24,"r":4.2e-5},{"t":24.32,"r":3.8e-4},{"t":24.4,"r":4e-5},{"t":24.48,"r":4e-4},{"t":24.56,"r":4e-5},{"t":24.64,"r":3.6e-4},{"t":24.72,"r":4.2e-5},{"t":24.8,"r":3.5e-4},{"t":24.88,"r":4.5e-5},{"t":24.96,"r":9e-4},{"t":25.04,"r":4.2e-5},{"t":25.12,"r":1.2e-3},{"t":25.2,"r":4e-5},{"t":25.28,"r":1.26e-3},{"t":25.36,"r":3.8e-5},{"t":25.44,"r":1.3e-3},{"t":25.52,"r":3.5e-5},{"t":25.6,"r":1.26e-3},{"t":25.68,"r":3.8e-5},{"t":25.76,"r":1.2e-3},{"t":25.84,"r":4e-5},{"t":25.92,"r":1.12e-3},{"t":26,"r":4e-5},
{"t":26.3,"r":3.2e-4},{"t":26.45,"r":7.9e-5},{"t":26.6,"r":5e-4},{"t":26.75,"r":4.5e-5},{"t":26.9,"r":2.5e-4},{"t":27.05,"r":4e-5},{"t":27.2,"r":1e-3},{"t":27.35,"r":3.5e-5},{"t":27.5,"r":1.41e-3},{"t":27.65,"r":4e-5},{"t":27.8,"r":1.26e-3},{"t":27.95,"r":4.5e-5},{"t":28.1,"r":1e-3},{"t":28.25,"r":3.5e-5},{"t":28.4,"r":7.9e-4},{"t":28.55,"r":5e-5},{"t":28.7,"r":1.26e-3},{"t":28.85,"r":6.3e-5},{"t":29,"r":3.2e-3},{"t":29.1,"r":1.12e-2},{"t":29.2,"r":1.6e-4},{"t":29.35,"r":4e-3},{"t":29.5,"r":7.9e-5},{"t":29.7,"r":3.2e-4},{"t":29.85,"r":4e-5},{"t":30,"r":2e-4},{"t":30.2,"r":3.5e-5},{"t":30.4,"r":2.2e-4},{"t":30.6,"r":3.2e-5},{"t":30.8,"r":2.5e-4},{"t":31,"r":5e-5},{"t":31.2,"r":1.6e-3},{"t":31.35,"r":1.12e-2},{"t":31.45,"r":3.2e-3},{"t":31.6,"r":2.5e-4},{"t":31.75,"r":6.3e-5},{"t":31.9,"r":3.2e-4},{"t":32.1,"r":5e-5},{"t":32.3,"r":5e-4},{"t":32.5,"r":4.5e-5},{"t":32.7,"r":1e-3},{"t":32.85,"r":6.3e-5},{"t":33,"r":5e-4},{"t":33.15,"r":4.5e-5},{"t":33.3,"r":6.3e-4},{"t":33.5,"r":7.9e-5},{"t":33.65,"r":1.6e-3},{"t":33.75,"r":3.31e-3},{"t":33.85,"r":1e-3},{"t":34,"r":5.6e-5},{"t":34.15,"r":2.5e-4},{"t":34.3,"r":4e-5},{"t":34.45,"r":2.2e-4},{"t":34.6,"r":5e-5},{"t":34.8,"r":2e-4},{"t":34.95,"r":1.26e-3},{"t":35.05,"r":2.29e-2},{"t":35.15,"r":2e-3},{"t":35.25,"r":2.5e-5},{"t":35.35,"r":2e-4},{"t":35.5,"r":7.9e-5},{"t":35.7,"r":5.6e-5},{"t":35.9,"r":5e-5},{"t":36.1,"r":4.5e-5},{"t":36.3,"r":5e-5},{"t":36.6,"r":4e-5},{"t":36.9,"r":4.5e-5},{"t":37.2,"r":5e-5},{"t":37.45,"r":5.6e-5},{"t":37.5,"r":9.5e-4},{"t":37.55,"r":2.04e-5},{"t":37.65,"r":5e-4},{"t":37.8,"r":6.3e-5},{"t":37.95,"r":3.2e-4},{"t":38.1,"r":5e-5},{"t":38.25,"r":5e-4},{"t":38.4,"r":1e-4},{"t":38.55,"r":4e-4},{"t":38.7,"r":4.5e-5},{"t":38.85,"r":3.2e-4},{"t":39,"r":6.3e-5},{"t":39.15,"r":2.5e-4},{"t":39.3,"r":3.5e-5},{"t":39.5,"r":2e-4},{"t":39.7,"r":3.2e-5},{"t":39.9,"r":1.6e-4},{"t":40.1,"r":5e-5},{"t":40.3,"r":2.29e-2},{"t":40.4,"r":2e-4},{"t":40.6,"r":7.9e-5},{"t":40.7,"r":1.48e-5},{"t":40.8,"r":2.29e-2},{"t":40.9,"r":2.5e-4},{"t":41.05,"r":5e-5},{"t":41.2,"r":6.3e-4},{"t":41.35,"r":2.5e-5},{"t":41.5,"r":5e-4},{"t":41.65,"r":3.2e-5},{"t":41.8,"r":3.2e-4},{"t":41.95,"r":2e-5},{"t":42.1,"r":2.5e-4},{"t":42.25,"r":2.5e-5},{"t":42.45,"r":6.3e-4},{"t":42.6,"r":1e-4},{"t":42.8,"r":5.6e-4},{"t":43,"r":6.3e-5},{"t":43.2,"r":2.5e-4},{"t":43.4,"r":5e-5},{"t":43.6,"r":2e-4},{"t":43.85,"r":3.2e-4},{"t":43.9,"r":0.339},{"t":43.95,"r":1.6e-4},{"t":44.1,"r":5e-5},{"t":44.25,"r":1.6e-4},{"t":44.4,"r":3.2e-5},{"t":44.6,"r":7.1e-4},{"t":44.75,"r":2.5e-4},{"t":44.95,"r":4e-4},{"t":45,"r":0.2},{"t":45.05,"r":1e-3},{"t":45.2,"r":3.2e-4},{"t":45.4,"r":1.6e-4},{"t":45.6,"r":7.9e-5},{"t":45.8,"r":5e-5},{"t":46,"r":3.5e-5},{"t":46.2,"r":4.5e-5},{"t":46.4,"r":2e-5},{"t":46.6,"r":5e-5},{"t":46.8,"r":2.24e-5},{"t":47,"r":7.9e-5},{"t":47.2,"r":2.5e-5},{"t":47.4,"r":1e-4},{"t":47.6,"r":2e-5},{"t":47.8,"r":7.9e-5},{"t":48,"r":2e-5},{"t":48.2,"r":6.3e-5},{"t":48.4,"r":3.2e-5},{"t":48.6,"r":1.12e-4},{"t":48.8,"r":4e-5},{"t":49,"r":1e-4},{"t":49.2,"r":3.5e-5},{"t":49.4,"r":7.9e-5},{"t":49.6,"r":1.6e-5},{"t":49.8,"r":1e-4},{"t":50,"r":1.41e-5},{"t":50.2,"r":1.12e-4},{"t":50.4,"r":2e-5},{"t":50.6,"r":8.9e-5},{"t":50.8,"r":1.41e-5},{"t":51,"r":1e-4},{"t":51.2,"r":1.6e-5},{"t":51.4,"r":7.9e-5},{"t":51.6,"r":5e-5},{"t":51.8,"r":1e-4},{"t":52,"r":4e-5},{"t":52.2,"r":7.9e-5},{"t":52.4,"r":5e-5},{"t":52.6,"r":1.26e-4},{"t":52.8,"r":6.3e-5},{"t":52.95,"r":6.3e-4},{"t":53.1,"r":1e-4},{"t":53.2,"r":2.5e-3},{"t":53.3,"r":1.95e-2},{"t":53.4,"r":1.6e-3},{"t":53.5,"r":2.5e-4},{"t":53.65,"r":3.2e-3},{"t":53.8,"r":2.5e-4},{"t":53.95,"r":1.6e-3},{"t":54.1,"r":4e-4},{"t":54.2,"r":4.57e-2},{"t":54.3,"r":2.5e-3},{"t":54.45,"r":1.26e-4},{"t":54.6,"r":1.29e-5},{"t":54.75,"r":1e-4},{"t":54.9,"r":3.2e-5},{"t":55.05,"r":7.9e-5},{"t":55.2,"r":2.5e-5},{"t":55.4,"r":6.3e-5},{"t":55.6,"r":2.5e-5},{"t":55.8,"r":2.04e-5},{"t":56.2,"r":2.4e-5},{"t":56.6,"r":3.2e-5},{"t":56.8,"r":3.7e-5},{"t":57,"r":5e-5},{"t":57.2,"r":7.9e-5},{"t":57.3,"r":3.2e-5},
{"t":57.4,"r":6.3e-4},{"t":57.5,"r":5e-5},{"t":57.6,"r":5e-4},{"t":57.7,"r":3.2e-5},{"t":57.8,"r":5e-4},{"t":57.9,"r":4e-5},{"t":58,"r":4e-4},{"t":58.1,"r":6.3e-5},{"t":58.2,"r":3.5e-4},{"t":58.3,"r":3e-5},{"t":58.4,"r":3.2e-4},{"t":58.5,"r":2.5e-5},{"t":58.6,"r":4e-4},{"t":58.7,"r":4e-5},{"t":58.8,"r":3.5e-4},{"t":58.9,"r":5e-5},{"t":59,"r":2.5e-4},{"t":59.1,"r":2e-5},{"t":59.2,"r":4.5e-4},{"t":59.3,"r":3e-5},{"t":59.4,"r":5e-4},{"t":59.5,"r":3.2e-5},{"t":59.6,"r":3.2e-4},{"t":59.7,"r":2.5e-5},{"t":59.8,"r":4e-4},{"t":59.9,"r":1.8e-5},{"t":60,"r":4e-4},{"t":60.1,"r":1.26e-5},{"t":60.2,"r":4e-4},{"t":60.3,"r":2e-5},{"t":60.4,"r":3e-4},{"t":60.5,"r":2.2e-5},{"t":60.6,"r":2.5e-4},{"t":60.7,"r":1.6e-5},{"t":60.8,"r":5e-4},{"t":60.9,"r":2.5e-5},{"t":61,"r":4e-4},{"t":61.1,"r":2e-5},{"t":61.2,"r":3.2e-4},{"t":61.3,"r":1.26e-5},{"t":61.4,"r":5.6e-4},{"t":61.5,"r":2e-5},{"t":61.6,"r":4.5e-4},{"t":61.7,"r":2.5e-5},{"t":61.8,"r":4e-4},{"t":61.9,"r":1.12e-5},{"t":62,"r":5e-4},{"t":62.1,"r":2.5e-5},{"t":62.2,"r":4e-4},{"t":62.3,"r":2e-5},{"t":62.4,"r":3.2e-4},{"t":62.5,"r":1.6e-5},{"t":62.6,"r":6.3e-4},{"t":62.7,"r":3.2e-5},{"t":62.8,"r":5.6e-4},{"t":62.9,"r":2.5e-5},{"t":63,"r":5e-4},{"t":63.1,"r":2e-5},{"t":63.2,"r":5.6e-4},{"t":63.3,"r":2.5e-5},{"t":63.4,"r":4.5e-4},{"t":63.5,"r":3e-5},{"t":63.6,"r":4e-4},{"t":63.7,"r":1.6e-5},{"t":63.8,"r":5e-4},{"t":63.9,"r":3.2e-5},{"t":64,"r":4e-4},{"t":64.1,"r":4e-5},{"t":64.2,"r":3.2e-4},{"t":64.3,"r":5e-5},
{"t":64.4,"r":1e-3},{"t":64.55,"r":3.2e-3},{"t":64.7,"r":7.9e-3},{"t":64.8,"r":1.82e-2},{"t":64.9,"r":4e-3},{"t":65,"r":3.2e-4},{"t":65.1,"r":2.5e-3},{"t":65.2,"r":6.3e-5},{"t":65.3,"r":1.26e-3}
],
"botMass": [
{"t":0,"m":0},{"t":0.6,"m":0.02},{"t":2,"m":0.05},{"t":3.6,"m":0.09},{"t":5,"m":0.25},{"t":5.8,"m":0.42},{"t":7,"m":0.65},{"t":7.9,"m":0.87},{"t":9,"m":1.13},{"t":10,"m":1.43},{"t":11,"m":1.7},{"t":12.2,"m":2.0},{"t":13.3,"m":2.28},{"t":14.3,"m":2.55},{"t":14.8,"m":2.66},{"t":15.5,"m":2.8},{"t":16.6,"m":3.0},{"t":17.5,"m":3.25},{"t":18.8,"m":3.56},{"t":20,"m":3.75},{"t":20.9,"m":3.89},{"t":22,"m":4.15},{"t":23.1,"m":4.45},{"t":24,"m":4.6},{"t":25.2,"m":4.79},{"t":26.3,"m":5.2},{"t":27.3,"m":5.35},{"t":28.8,"m":5.7},{"t":29.2,"m":6.1},{"t":29.7,"m":6.55},{"t":30.8,"m":6.65},{"t":31.2,"m":7.0},{"t":31.5,"m":7.45},{"t":33,"m":7.58},{"t":34,"m":7.7},{"t":34.8,"m":7.9},{"t":35,"m":8.0},{"t":35.2,"m":8.7},{"t":35.5,"m":9.1},{"t":37.6,"m":9.3},{"t":40.2,"m":9.7},{"t":40.4,"m":10.3},{"t":40.6,"m":10.8},{"t":41,"m":10.9},{"t":42.5,"m":11.1},{"t":43.8,"m":11.3},{"t":43.95,"m":12.5},{"t":44.9,"m":12.6},{"t":45,"m":14.4},{"t":46,"m":14.45},{"t":48,"m":14.55},{"t":50,"m":14.65},{"t":52.9,"m":14.75},{"t":53.2,"m":15.2},{"t":53.5,"m":15.8},{"t":54,"m":16.1},{"t":54.2,"m":17.3},{"t":55,"m":17.45},{"t":57.1,"m":17.5},{"t":58.5,"m":17.8},{"t":60,"m":18.0},{"t":61.5,"m":18.35},{"t":63,"m":18.7},{"t":64.3,"m":19.0},{"t":64.7,"m":19.5},{"t":65,"m":20.0},{"t":65.2,"m":20.3}
]
},
"vconcat": [
{
  "width": 1092, "height": 298,
  "layer": [
    {"layer": [
      {"data": {"name": "topRate"},
       "mark": {"type": "line", "clip": true},
       "encoding": {
         "x": {"field": "t", "type": "quantitative", "scale": {"domain": [0, 70], "nice": false, "zero": false},
               "axis": {"orient": "bottom", "labels": false, "title": null, "values": [0,10,20,30,40,50,60,70], "tickSize": -5}},
         "y": {"field": "r", "type": "quantitative", "scale": {"type": "log", "domain": [1e-6, 1], "nice": false},
               "axis": {"title": "Accretion rate (M⊙ yr⁻¹)", "titlePadding": 5, "labelPadding": 3,
                        "values": [1e-6,2e-6,3e-6,4e-6,5e-6,6e-6,7e-6,8e-6,9e-6,1e-5,2e-5,3e-5,4e-5,5e-5,6e-5,7e-5,8e-5,9e-5,1e-4,2e-4,3e-4,4e-4,5e-4,6e-4,7e-4,8e-4,9e-4,0.001,0.002,0.003,0.004,0.005,0.006,0.007,0.008,0.009,0.01,0.02,0.03,0.04,0.05,0.06,0.07,0.08,0.09,0.1,0.2,0.3,0.4,0.5,0.6,0.7,0.8,0.9,1],
                        "labelExpr": "abs(log(datum.value)/LN10-round(log(datum.value)/LN10))<0.01 ? ['10⁰','10⁻¹','10⁻²','10⁻³','10⁻⁴','10⁻⁵','10⁻⁶'][abs(round(log(datum.value)/LN10))] : ''",
                        "tickSize": {"condition": {"test": "abs(log(datum.value)/LN10-round(log(datum.value)/LN10))<0.01", "value": 5}, "value": 2.5}}},
         "color": {"field": "s", "type": "nominal", "scale": {"domain": ["V","C","S"], "range": ["#0000ff","#ff0000","#000000"]},
                   "legend": {"title": null, "orient": "top-left", "symbolType": "M-1,0H3.2", "symbolSize": 400, "labelOffset": 34,
                              "labelExpr": "datum.label == 'V' ? 'Variable accretion rate with bursts' : datum.label == 'C' ? 'Constant accretion rate' : 'Smoothed accretion rate'"}},
         "strokeWidth": {"field": "s", "type": "nominal", "scale": {"domain": ["V","C","S"], "range": [1.5, 2.5, 5]},
                   "legend": {"title": null, "orient": "top-left", "symbolType": "M-1,0H3.2", "symbolSize": 400, "labelOffset": 34,
                              "labelExpr": "datum.label == 'V' ? 'Variable accretion rate with bursts' : datum.label == 'C' ? 'Constant accretion rate' : 'Smoothed accretion rate'"}}
       }},
      {"data": {"values": [{"t": 14.8}]},
       "mark": {"type": "rule", "color": "black", "strokeWidth": 1.8},
       "encoding": {"x": {"field": "t", "type": "quantitative"}}},
      {"data": {"values": [{"t": 4.37, "t2": 13.22, "r": 1.81e-4, "r2": 2.05e-5}]},
       "mark": {"type": "rect", "fill": "#ffff88", "stroke": "#888888", "strokeWidth": 1.5, "cornerRadius": 8},
       "encoding": {"x": {"field": "t", "type": "quantitative"}, "x2": {"field": "t2"}, "y": {"field": "r", "type": "quantitative"}, "y2": {"field": "r2"}}},
      {"data": {"values": [{"t": 8.8, "r": 6.1e-5, "label": "M⋆ = 8 M⊙"}]},
       "mark": {"type": "text", "fontSize": 21, "color": "black"},
       "encoding": {"x": {"field": "t", "type": "quantitative"}, "y": {"field": "r", "type": "quantitative"}, "text": {"field": "label"}}},
      {"data": {"values": [{"t": 13.46, "r": 4.11e-5}, {"t": 18.9, "r": 2.58e-5}]},
       "mark": {"type": "line", "color": "black", "strokeWidth": 1.2},
       "encoding": {"x": {"field": "t", "type": "quantitative"}, "y": {"field": "r", "type": "quantitative"}}},
      {"data": {"values": [{"t": 18.9, "r": 2.58e-5}]},
       "mark": {"type": "point", "shape": "M-1,-0.45L0,0L-1,0.45", "filled": false, "stroke": "black", "strokeWidth": 1.2, "size": 440, "angle": 6.7, "opacity": 1},
       "encoding": {"x": {"field": "t", "type": "quantitative"}, "y": {"field": "r", "type": "quantitative"}}},
      {"data": {"values": [{"t": 3.8, "r": 2.7e-6, "label": "(a)"}]},
       "mark": {"type": "text", "fontSize": 18, "color": "black"},
       "encoding": {"x": {"field": "t", "type": "quantitative"}, "y": {"field": "r", "type": "quantitative"}, "text": {"field": "label"}}}
    ]},
    {"layer": [
      {"data": {"name": "topMass"},
       "mark": {"type": "line", "clip": true},
       "encoding": {
         "x": {"field": "t", "type": "quantitative"},
         "y": {"field": "m", "type": "quantitative", "scale": {"domain": [0, 35], "nice": false},
               "axis": {"orient": "right", "title": "Protostellar mass (M⊙)", "titleAngle": 270, "titleBaseline": "top", "titleFontSize": 19, "values": [0,5,10,15,20,25,30,35], "tickSize": 5, "labelPadding": 3, "titlePadding": 5, "labelOverlap": false}},
         "color": {"field": "s", "type": "nominal", "scale": {"domain": ["MV","MC","MS"], "range": ["#0000ff","#ff0000","#000000"]},
                   "legend": {"title": null, "orient": "bottom-right", "symbolType": "M-1,0H3.2", "symbolSize": 400, "labelOffset": 34,
                              "labelExpr": "datum.label == 'MV' ? 'Mass (variable)' : datum.label == 'MC' ? 'Mass (constant)' : 'Mass (smoothed)'"}},
         "strokeWidth": {"field": "s", "type": "nominal", "scale": {"domain": ["MV","MC","MS"], "range": [1.3, 2.5, 4.5]},
                   "legend": {"title": null, "orient": "bottom-right", "symbolType": "M-1,0H3.2", "symbolSize": 400, "labelOffset": 34,
                              "labelExpr": "datum.label == 'MV' ? 'Mass (variable)' : datum.label == 'MC' ? 'Mass (constant)' : 'Mass (smoothed)'"}},
         "strokeDash": {"field": "s", "type": "nominal", "scale": {"domain": ["MV","MC","MS"], "range": [[4,2],[9,4],[16,7]]},
                   "legend": {"title": null, "orient": "bottom-right", "symbolType": "M-1,0H3.2", "symbolSize": 400, "labelOffset": 34,
                              "labelExpr": "datum.label == 'MV' ? 'Mass (variable)' : datum.label == 'MC' ? 'Mass (constant)' : 'Mass (smoothed)'"}}
       }},
      {"data": {"values": [{"t": 19.1, "m": 8}]},
       "mark": {"type": "point", "shape": "circle", "filled": true, "color": "#ffa500", "opacity": 0.5, "size": 700},
       "encoding": {"x": {"field": "t", "type": "quantitative"},
                    "y": {"field": "m", "type": "quantitative", "axis": {"orient": "right", "title": "Protostellar mass (M⊙)", "titleAngle": 270, "titleBaseline": "top", "titleFontSize": 19, "values": [0,5,10,15,20,25,30,35], "tickSize": 5, "labelPadding": 3, "titlePadding": 5, "labelOverlap": false}}}}
    ]}
  ],
  "resolve": {"scale": {"y": "independent", "color": "independent", "strokeWidth": "independent", "strokeDash": "independent"}}
},
{
  "width": 1092, "height": 298,
  "layer": [
    {"layer": [
      {"data": {"name": "botRate"},
       "mark": {"type": "line", "clip": true, "strokeWidth": 1.5},
       "encoding": {
         "x": {"field": "t", "type": "quantitative", "scale": {"domain": [0, 70], "nice": false, "zero": false},
               "axis": {"orient": "bottom", "title": "Stellar age (kyr)", "titleFontSize": 23, "values": [0,10,20,30,40,50,60,70], "tickSize": 5, "labelPadding": 3, "titlePadding": 5}},
         "y": {"field": "r", "type": "quantitative", "scale": {"type": "log", "domain": [1e-6, 1], "nice": false},
               "axis": {"title": "Accretion rate (M⊙ yr⁻¹)", "titlePadding": 5, "labelPadding": 3,
                        "values": [1e-6,2e-6,3e-6,4e-6,5e-6,6e-6,7e-6,8e-6,9e-6,1e-5,2e-5,3e-5,4e-5,5e-5,6e-5,7e-5,8e-5,9e-5,1e-4,2e-4,3e-4,4e-4,5e-4,6e-4,7e-4,8e-4,9e-4,0.001,0.002,0.003,0.004,0.005,0.006,0.007,0.008,0.009,0.01,0.02,0.03,0.04,0.05,0.06,0.07,0.08,0.09,0.1,0.2,0.3,0.4,0.5,0.6,0.7,0.8,0.9,1],
                        "labelExpr": "abs(log(datum.value)/LN10-round(log(datum.value)/LN10))<0.01 ? ['10⁰','10⁻¹','10⁻²','10⁻³','10⁻⁴','10⁻⁵','10⁻⁶'][abs(round(log(datum.value)/LN10))] : ''",
                        "tickSize": {"condition": {"test": "abs(log(datum.value)/LN10-round(log(datum.value)/LN10))<0.01", "value": 5}, "value": 2.5}}},
         "color": {"datum": "Variable accretion rate with bursts", "type": "nominal", "scale": {"range": ["#0000ff"]},
                   "legend": {"title": null, "orient": "top-left", "symbolType": "M-1,0H3.2", "symbolSize": 400, "labelOffset": 34, "symbolStrokeWidth": 1.5}}
       }},
      {"data": {"values": [{"t": 14.8}]},
       "mark": {"type": "rule", "color": "black", "strokeWidth": 1.8},
       "encoding": {"x": {"field": "t", "type": "quantitative"}}},
      {"data": {"values": [{"t": 17.5, "t2": 26.36, "r": 1.7e-2, "r2": 2.1e-3}]},
       "mark": {"type": "rect", "fill": "#ffff88", "stroke": "#888888", "strokeWidth": 1.5, "cornerRadius": 8},
       "encoding": {"x": {"field": "t", "type": "quantitative"}, "x2": {"field": "t2"}, "y": {"field": "r", "type": "quantitative"}, "y2": {"field": "r2"}}},
      {"data": {"values": [{"t": 21.93, "r": 6.0e-3, "label": "M⋆ = 8 M⊙"}]},
       "mark": {"type": "text", "fontSize": 21, "color": "black"},
       "encoding": {"x": {"field": "t", "type": "quantitative"}, "y": {"field": "r", "type": "quantitative"}, "text": {"field": "label"}}},
      {"data": {"values": [{"t": 26.28, "r": 2.08e-3}, {"t": 34.82, "r": 2.79e-4}]},
       "mark": {"type": "line", "color": "black", "strokeWidth": 1.2},
       "encoding": {"x": {"field": "t", "type": "quantitative"}, "y": {"field": "r", "type": "quantitative"}}},
      {"data": {"values": [{"t": 34.82, "r": 2.79e-4}]},
       "mark": {"type": "point", "shape": "M-1,-0.45L0,0L-1,0.45", "filled": false, "stroke": "black", "strokeWidth": 1.2, "size": 440, "angle": 18, "opacity": 1},
       "encoding": {"x": {"field": "t", "type": "quantitative"}, "y": {"field": "r", "type": "quantitative"}}},
      {"data": {"values": [{"t": 3.9, "r": 2.6e-6, "label": "(b)"}]},
       "mark": {"type": "text", "fontSize": 18, "color": "black"},
       "encoding": {"x": {"field": "t", "type": "quantitative"}, "y": {"field": "r", "type": "quantitative"}, "text": {"field": "label"}}}
    ]},
    {"layer": [
      {"data": {"name": "botMass"},
       "mark": {"type": "line", "clip": true, "strokeWidth": 1.3, "strokeDash": [4, 2]},
       "encoding": {
         "x": {"field": "t", "type": "quantitative"},
         "y": {"field": "m", "type": "quantitative", "scale": {"domain": [0, 20], "nice": false},
               "axis": {"orient": "right", "title": "Protostellar mass (M⊙)", "titleAngle": 270, "titleBaseline": "top", "titleFontSize": 19, "values": [0,2.5,5,7.5,10,12.5,15,17.5,20], "format": ".1f", "tickSize": 5, "labelPadding": 3, "titlePadding": 5, "labelOverlap": false}},
         "color": {"datum": "Mass (variable)", "type": "nominal", "scale": {"range": ["#0000ff"]},
                   "legend": {"title": null, "orient": "bottom-right", "symbolType": "M-1,0H3.2", "symbolSize": 400, "labelOffset": 34, "symbolStrokeWidth": 1.3, "symbolDash": [4, 2]}}
       }},
      {"data": {"values": [{"t": 35.03, "m": 8}]},
       "mark": {"type": "point", "shape": "circle", "filled": true, "color": "#ffa500", "opacity": 0.5, "size": 700},
       "encoding": {"x": {"field": "t", "type": "quantitative"},
                    "y": {"field": "m", "type": "quantitative", "axis": {"orient": "right", "title": "Protostellar mass (M⊙)", "titleAngle": 270, "titleBaseline": "top", "titleFontSize": 19, "values": [0,2.5,5,7.5,10,12.5,15,17.5,20], "format": ".1f", "tickSize": 5, "labelPadding": 3, "titlePadding": 5, "labelOverlap": false}}}}
    ]}
  ],
  "resolve": {"scale": {"y": "independent", "color": "independent"}}
}
]
}
